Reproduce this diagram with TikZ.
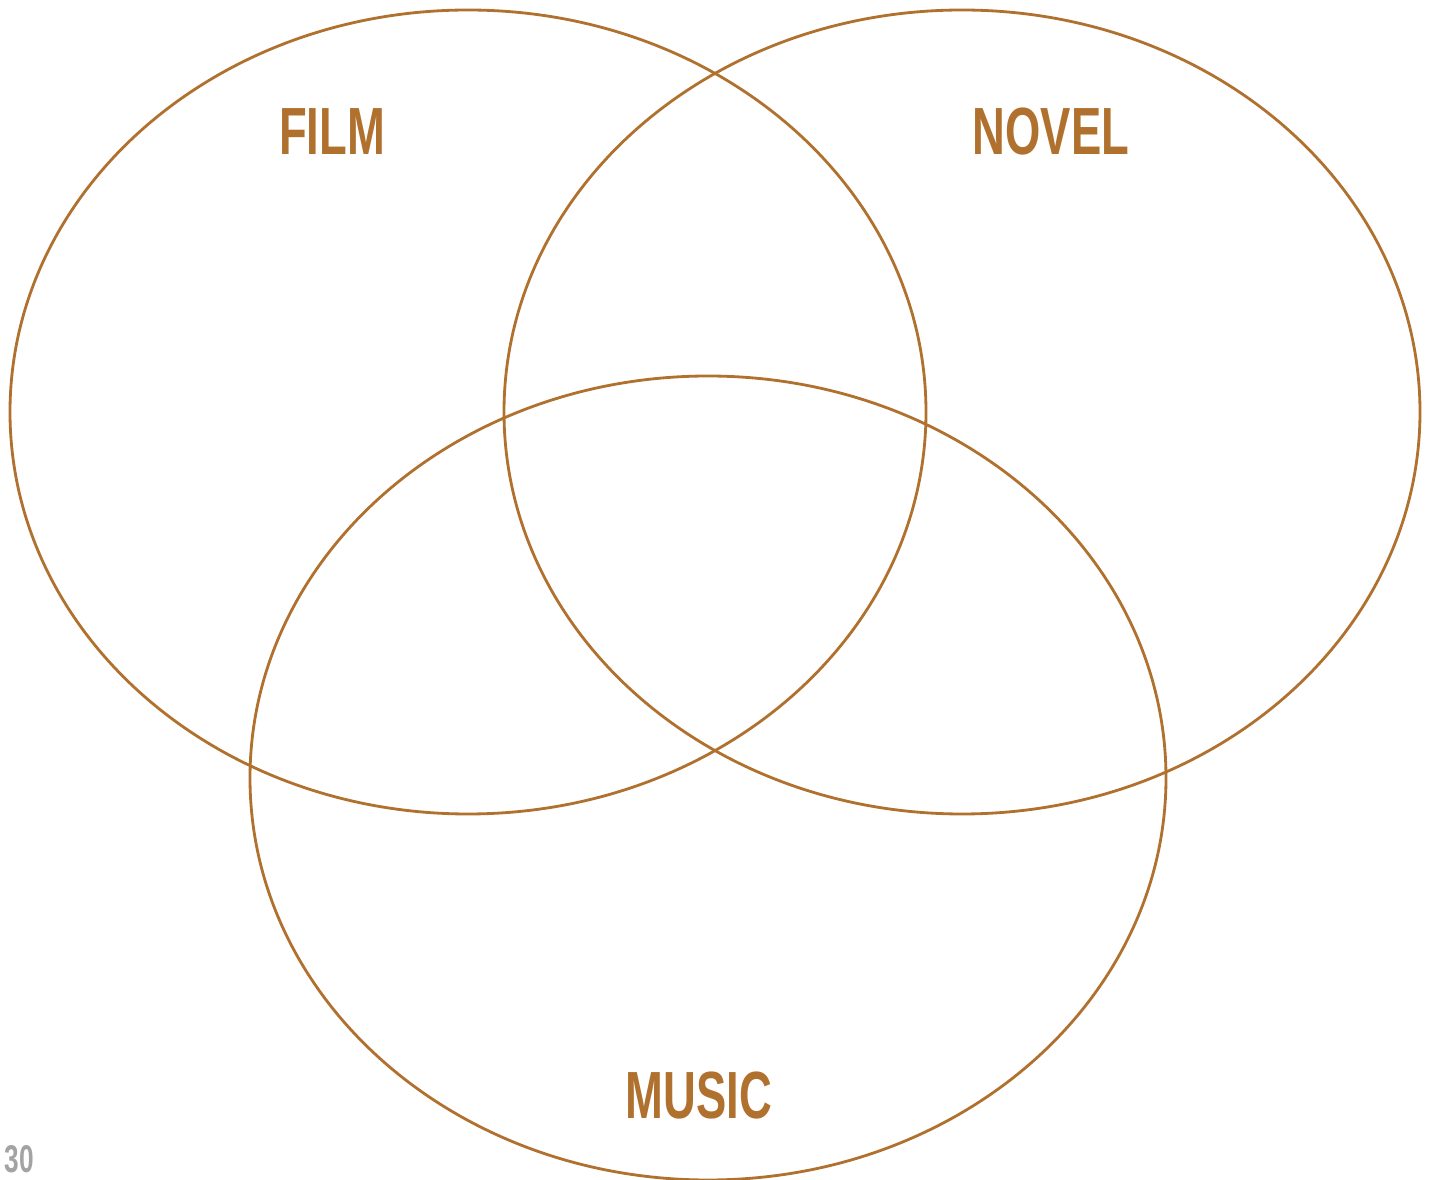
\documentclass[tikz,border=0pt]{standalone}
\usepackage{fontspec}
\usepackage{xcolor}
\usepackage{tikz}
\usetikzlibrary{shapes.geometric}
\newfontfamily\labelfont{Liberation Sans}[FakeStretch=0.68]
\definecolor{setbrown}{HTML}{B0712F}
\definecolor{pagegray}{HTML}{A3A3A3}

\begin{document}
\begin{tikzpicture}[font=\labelfont\bfseries]

\tikzset{
s/.style={
    draw=setbrown,
    line width=0.8pt,
    ellipse,
    inner sep=0pt,
    minimum width=91.6mm,
    minimum height=80.4mm
},
t/.style={
    text=setbrown,
    font=\labelfont\bfseries\fontsize{19}{19}\selectfont,
    inner sep=0pt
}
}

\useasboundingbox (0,0) rectangle (14.31,11.80);

\node[s] (film) at (4.68,7.68) {};
\node[s] (novel) at (9.62,7.68) {};
\node[s] (music) at (7.08,4.02) {};

\node[t] (filmlabel) at (3.32,10.48) {FILM};
\node[t] (novellabel) at (10.51,10.48) {NOVEL};
\node[t] (musiclabel) at (6.99,0.84) {MUSIC};

\node[text=pagegray,font=\labelfont\bfseries\fontsize{11}{11}\selectfont,inner sep=0pt,anchor=south west] (page) at (0.04,0.06) {30};

\end{tikzpicture}
\end{document}
